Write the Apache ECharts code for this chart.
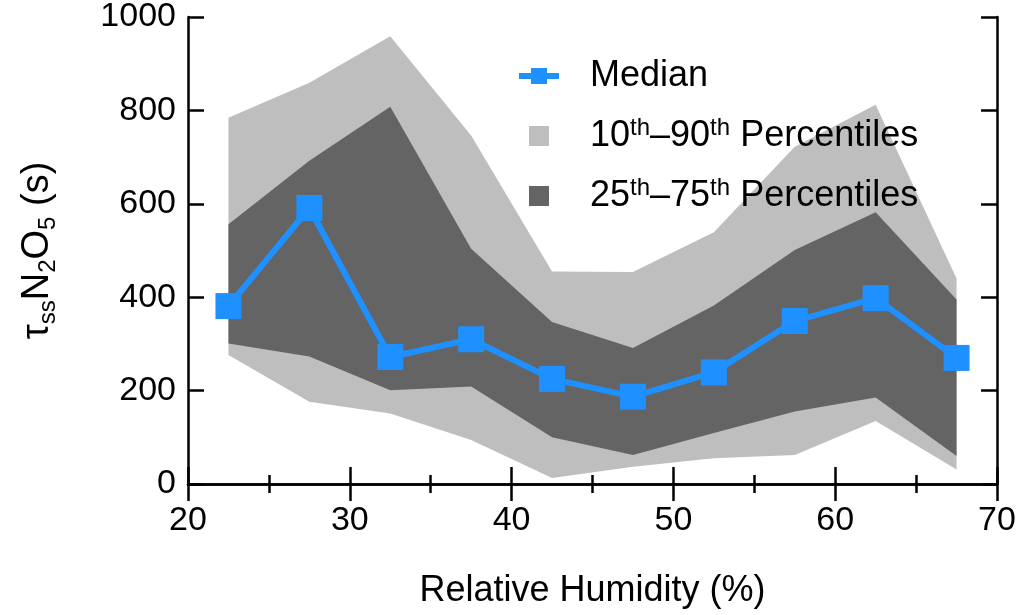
<!DOCTYPE html>
<html>
<head>
<meta charset="utf-8">
<script src="https://cdn.jsdelivr.net/npm/echarts@6/dist/echarts.min.js"></script>
<style>
  html, body { margin: 0; padding: 0; background: #fff; }
  #chart { width: 1023px; height: 615px; }
</style>
</head>
<body>
<div id="chart"></div>
<script>
  // relative humidity bin centres (%)
  var rh = [22.5, 27.5, 32.5, 37.5, 42.5, 47.5, 52.5, 57.5, 62.5, 67.5];
  var median = [381, 591, 272, 310, 225, 187, 239, 349, 398, 270];
  var p10 = [276, 176, 151, 94, 13, 37, 55, 62, 135, 31];
  var p25 = [301, 273, 201, 209, 100, 62, 109, 155, 185, 60];
  var p75 = [556, 692, 808, 504, 347, 291, 382, 501, 582, 395];
  var p90 = [784, 859, 959, 746, 455, 454, 539, 722, 812, 440];
  var yTicks = [0, 200, 400, 600, 800, 1000];

  var LIGHT = '#bebebe';
  var DARK = '#646464';
  var BLUE = '#1e90ff';
  var FONT = '"Liberation Sans", Arial, sans-serif';

  // one filled polygon between lower and upper, drawn on the first item
  function band(name, lower, upper, color) {
    return {
      name: name,
      type: 'custom',
      silent: true,
      itemStyle: { color: color },
      data: rh.map(function (x, i) { return [x, lower[i], upper[i]]; }),
      encode: { x: 0, y: [1, 2] },
      renderItem: function (params, api) {
        if (params.dataIndex !== 0) return null;
        var pts = [];
        for (var i = 0; i < rh.length; i++) pts.push(api.coord([rh[i], upper[i]]));
        for (var j = rh.length - 1; j >= 0; j--) pts.push(api.coord([rh[j], lower[j]]));
        return {
          type: 'polygon',
          shape: { points: pts },
          style: { fill: color }
        };
      },
      z: 1
    };
  }

  var axisLine = { show: true, lineStyle: { color: '#000', width: 2.5 } };
  var tickStyle = { color: '#000', width: 2.5 };

  var chart = echarts.init(document.getElementById('chart'));
  chart.setOption({
    animation: false,
    textStyle: { fontFamily: FONT },
    grid: { left: 188, right: 26, top: 16, bottom: 131 },
    legend: {
      orient: 'vertical',
      left: 516,
      top: 56,
      padding: 0,
      itemWidth: 40,
      itemHeight: 20,
      itemGap: 20,
      selectedMode: false,
      lineStyle: { width: 6 },
      textStyle: {
        fontSize: 36,
        lineHeight: 40,
        color: '#000',
        fontFamily: FONT,
        padding: [0, 0, 0, 26],
        rich: {
          sup: { fontSize: 24, lineHeight: 18, verticalAlign: 'top', color: '#000', fontFamily: FONT }
        }
      },
      formatter: function (name) {
        if (name === 'p1090') return '10{sup|th}–90{sup|th} Percentiles';
        if (name === 'p2575') return '25{sup|th}–75{sup|th} Percentiles';
        return name;
      },
      data: [
        { name: 'Median' },
        { name: 'p1090', icon: 'path://M0,0h1v1h-1z', itemStyle: { color: LIGHT } },
        { name: 'p2575', icon: 'path://M0,0h1v1h-1z', itemStyle: { color: DARK } }
      ]
    },
    xAxis: [{
      type: 'value',
      min: 20, max: 70, interval: 10,
      z: 10,
      name: 'Relative Humidity (%)',
      nameLocation: 'middle',
      nameGap: 89,
      nameTextStyle: { fontSize: 36, color: '#000', fontFamily: FONT },
      axisLine: axisLine,
      axisTick: { inside: true, length: 17, lineStyle: tickStyle },
      minorTick: { show: true, splitNumber: 2, length: 9, lineStyle: tickStyle },
      axisLabel: { fontSize: 34, color: '#000', margin: 20, fontFamily: FONT },
      splitLine: { show: false }
    }, {
      type: 'value',
      position: 'top',
      min: 20, max: 70, interval: 10,
      z: 10,
      axisLine: axisLine,
      axisTick: { inside: true, length: 17, lineStyle: tickStyle },
      minorTick: { show: true, splitNumber: 2, length: 9, lineStyle: tickStyle },
      axisLabel: { show: false },
      splitLine: { show: false }
    }],
    yAxis: [{
      type: 'value',
      min: yTicks[0], max: yTicks[yTicks.length - 1], interval: 200,
      z: 10,
      name: '{n|τ}{sub|ss}{n|N}{sub|2}{n|O}{sub|5}{n| (s)}',
      nameLocation: 'middle',
      nameGap: 128,
      nameTextStyle: {
        color: '#000',
        rich: {
          n: { fontSize: 38, color: '#000', fontFamily: FONT, lineHeight: 44 },
          sub: { fontSize: 24, color: '#000', fontFamily: FONT, verticalAlign: 'bottom', lineHeight: 34 }
        }
      },
      axisLine: axisLine,
      axisTick: { inside: true, length: 16, lineStyle: tickStyle },
      axisLabel: {
        fontSize: 34, color: '#000', margin: 12, fontFamily: FONT,
        formatter: function (v) { return String(v); }
      },
      splitLine: { show: false }
    }, {
      type: 'value',
      position: 'right',
      min: yTicks[0], max: yTicks[yTicks.length - 1], interval: 200,
      z: 10,
      axisLine: axisLine,
      axisTick: { inside: true, length: 16, lineStyle: tickStyle },
      axisLabel: { show: false },
      splitLine: { show: false }
    }],
    series: [
      band('p1090', p10, p90, LIGHT),
      band('p2575', p25, p75, DARK),
      {
        name: 'Median',
        type: 'line',
        data: rh.map(function (x, i) { return [x, median[i]]; }),
        symbol: 'rect',
        symbolSize: 26,
        lineStyle: { color: BLUE, width: 6 },
        itemStyle: { color: BLUE },
        z: 5
      }
    ]
  });
</script>
</body>
</html>
